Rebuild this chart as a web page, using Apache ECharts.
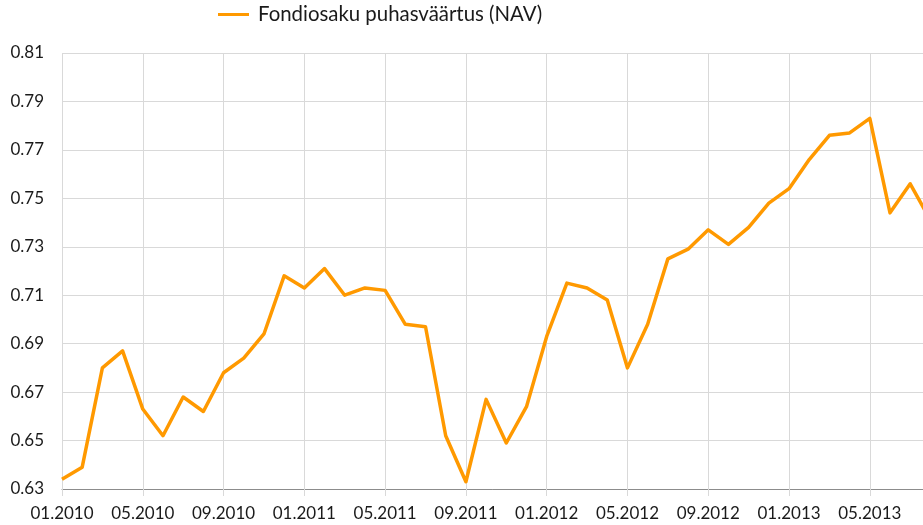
<!DOCTYPE html>
<html>
<head>
<meta charset="utf-8">
<script src="https://cdn.jsdelivr.net/npm/echarts@6/dist/echarts.min.js"></script>
<style>
html,body{margin:0;padding:0;background:#fff;}
#chart{width:923px;height:525px;}
</style>
</head>
<body>
<div id="chart"></div>
<script>
const seriesName = 'Fondiosaku puhasväärtus (NAV)';
const months = [
  '01.2010','02.2010','03.2010','04.2010','05.2010','06.2010','07.2010','08.2010','09.2010','10.2010','11.2010','12.2010',
  '01.2011','02.2011','03.2011','04.2011','05.2011','06.2011','07.2011','08.2011','09.2011','10.2011','11.2011','12.2011',
  '01.2012','02.2012','03.2012','04.2012','05.2012','06.2012','07.2012','08.2012','09.2012','10.2012','11.2012','12.2012',
  '01.2013','02.2013','03.2013','04.2013','05.2013','06.2013','07.2013','08.2013'
];
const navValues = [
  0.634, 0.639, 0.680, 0.687, 0.663, 0.652, 0.668, 0.662, 0.678, 0.684, 0.694, 0.718,
  0.713, 0.721, 0.710, 0.713, 0.712, 0.698, 0.697, 0.652, 0.633, 0.667, 0.649, 0.664,
  0.693, 0.715, 0.713, 0.708, 0.680, 0.698, 0.725, 0.729, 0.737, 0.731, 0.738, 0.748,
  0.754, 0.766, 0.776, 0.777, 0.783, 0.744, 0.756, 0.741
];
const yMin = 0.63, yMax = 0.81, yStep = 0.02;

const chart = echarts.init(document.getElementById('chart'), null, {renderer: 'canvas'});
const font = 'Lato, "Noto Sans", sans-serif';
chart.setOption({
  animation: false,
  textStyle: {fontFamily: font},
  legend: {
    data: [seriesName],
    left: 218,
    top: 4.5,
    padding: 0,
    icon: 'rect',
    itemWidth: 31,
    itemHeight: 3,
    textStyle: {fontFamily: font, fontSize: 20.4, color: '#1a1a1a', padding: [6, 0, 0, 4]}
  },
  grid: {left: 62, top: 53, bottom: 36, right: -7.4, outerBoundsMode: 'none', containLabel: false},
  xAxis: {
    type: 'category',
    data: months,
    boundaryGap: false,
    axisLine: {show: true, lineStyle: {color: '#8c8c8c', width: 1}},
    axisTick: {show: true, interval: 3, length: 7, lineStyle: {color: '#d9d9d9'}},
    axisLabel: {interval: 3, fontFamily: font, fontSize: 17, color: '#1a1a1a', margin: 16},
    splitLine: {show: true, interval: 3, lineStyle: {color: '#d9d9d9', width: 1}}
  },
  yAxis: {
    type: 'value',
    min: yMin,
    max: yMax,
    interval: yStep,
    axisLine: {show: false},
    axisTick: {show: false},
    axisLabel: {fontFamily: font, fontSize: 17, color: '#1a1a1a', margin: 18,
      formatter: v => v.toFixed(2)},
    splitLine: {show: true, lineStyle: {color: '#d9d9d9', width: 1}}
  },
  series: [{
    name: seriesName,
    type: 'line',
    data: navValues,
    symbol: 'none',
    clip: false,
    lineStyle: {color: '#ff9900', width: 3.5, join: 'round'},
    itemStyle: {color: '#ff9900'}
  }]
});
</script>
</body>
</html>
